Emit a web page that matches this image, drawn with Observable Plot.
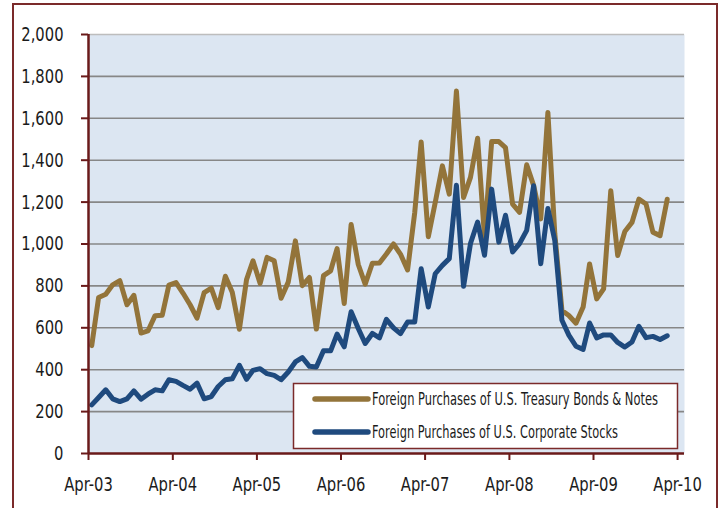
<!DOCTYPE html>
<html>
<head>
<meta charset="utf-8">
<script src="https://cdn.jsdelivr.net/npm/d3@7"></script>
<script src="https://cdn.jsdelivr.net/npm/@observablehq/plot@0.6"></script>
<style>
  body { margin: 0; background: #fff; }
  #wrap { position: relative; width: 724px; height: 508px; overflow: hidden;
          font-family: "Liberation Sans Narrow", "DejaVu Sans Condensed", "Roboto", sans-serif; }
  #frame { position: absolute; left: 12px; top: 3px; width: 702px; height: 560px;
           border: 2px solid #7b2a2a; box-sizing: content-box; }
  #chart { position: absolute; left: 0; top: 0; }
  #legend { position: absolute; left: 0; top: 0; pointer-events: none; }
</style>
</head>
<body>
<div id="wrap">
  <div id="frame"></div>
  <div id="chart"></div>
  <svg id="legend" width="724" height="508"></svg>
</div>
<script>
// Monthly values, starting Apr-03 (one per month)
const startYear = 2003, startMonth = 3; // April (0-based)
const treasury = [
  515, 745, 760, 805, 825, 710, 755, 575, 585, 658, 660, 804,
  816, 766, 710, 646, 768, 789, 696, 846, 770, 593, 830, 920,
  812, 936, 920, 741, 818, 1015, 801, 840, 594, 849, 872, 978,
  716, 1093, 902, 808, 908, 909, 952, 1000, 952, 876, 1150, 1487,
  1035, 1198, 1373, 1238, 1730, 1222, 1318, 1505, 1032, 1489, 1489, 1460,
  1190, 1151, 1378, 1280, 1120, 1628, 1050, 683, 659, 622, 699, 905,
  738, 786, 1254, 945, 1060, 1103, 1214, 1191, 1056, 1040, 1214
];
const stocks = [
  232, 267, 304, 261, 248, 261, 299, 259, 283, 304, 299, 352,
  344, 325, 307, 336, 261, 272, 320, 352, 357, 421, 354, 397,
  405, 381, 373, 352, 389, 437, 458, 416, 413, 490, 490, 570,
  509, 677, 597, 525, 573, 552, 640, 600, 572, 628, 628, 882,
  699, 858, 898, 930, 1280, 798, 1002, 1105, 946, 1262, 1009, 1137,
  962, 1002, 1065, 1278, 906, 1169, 1017, 636, 565, 512, 497, 623,
  552, 566, 566, 530, 508, 532, 607, 553, 559, 544, 562
];
const seriesNames = ["Foreign Purchases of U.S. Treasury Bonds & Notes", "Foreign Purchases of U.S. Corporate Stocks"];
const seriesColors = ["#93743a", "#1f4a7e"];
const yTicks = [0, 200, 400, 600, 800, 1000, 1200, 1400, 1600, 1800, 2000];
const xTickYears = [2003, 2004, 2005, 2006, 2007, 2008, 2009, 2010];

const rows = treasury.map((v, i) => ({
  date: new Date(Date.UTC(startYear, startMonth + i, 15)),
  treasury: v,
  stocks: stocks[i]
}));
const xTicks = xTickYears.map(y => new Date(Date.UTC(y, 3, 1)));
const x0 = new Date(Date.UTC(2003, 3, 1));
const x1 = new Date(Date.UTC(2010, 4, 1));
const axisColor = "#6a1a1a";

const chart = Plot.plot({
  width: 724, height: 508,
  marginLeft: 88, marginRight: 40, marginTop: 34, marginBottom: 55,
  style: { fontFamily: '"Liberation Sans Narrow", "DejaVu Sans Condensed", sans-serif', fontSize: "20px", color: "#1b1b1b", background: "transparent", overflow: "visible" },
  x: { type: "utc", domain: [x0, x1] },
  y: { domain: [0, 2000] },
  marks: [
    Plot.frame({ fill: "#dce6f2", stroke: null }),
    Plot.gridY(yTicks.filter(d => d > 0 && d < 2000), { stroke: "#878787", strokeOpacity: 1, strokeWidth: 1.6 }),
    Plot.ruleY([2000], { stroke: "#bdbdbd", strokeWidth: 1.6 }),
    Plot.lineY(rows, { x: "date", y: "treasury", stroke: seriesColors[0], strokeWidth: 5, strokeLinejoin: "round", strokeLinecap: "round" }),
    Plot.lineY(rows, { x: "date", y: "stocks", stroke: seriesColors[1], strokeWidth: 5, strokeLinejoin: "round", strokeLinecap: "round" }),
    Plot.ruleY([0], { stroke: axisColor, strokeWidth: 2.5 }),
    Plot.ruleX([x0], { stroke: axisColor, strokeWidth: 2.5 }),
    Plot.axisY({ ticks: yTicks, tickFormat: d3.format(","), tickSize: 7, tickPadding: 18, stroke: axisColor, strokeWidth: 2, strokeOpacity: 1, label: null }),
    Plot.axisX({ ticks: xTicks, tickFormat: d3.utcFormat("%b-%y"), tickSize: 7, tickPadding: 16, stroke: axisColor, strokeWidth: 2, strokeOpacity: 1, label: null })
  ]
});
document.getElementById("chart").appendChild(chart);

// condense tick labels
chart.querySelectorAll('g[aria-label$="tick label"] text').forEach(t => {
  const w = t.getComputedTextLength();
  t.setAttribute("textLength", (w * 0.82).toFixed(1));
  t.setAttribute("lengthAdjust", "spacingAndGlyphs");
});

// legend
const lg = d3.select("#legend");
lg.append("rect").attr("x", 293.5).attr("y", 383.5).attr("width", 384).attr("height", 65)
  .attr("fill", "#fff").attr("stroke", "#7b2a2a").attr("stroke-width", 1.5);
const legendLens = [286, 246];
seriesNames.forEach((name, i) => {
  const cy = 399 + i * 33;
  lg.append("line").attr("x1", 315).attr("x2", 368).attr("y1", cy).attr("y2", cy)
    .attr("stroke", seriesColors[i]).attr("stroke-width", 5.5).attr("stroke-linecap", "round");
  lg.append("text")
    .attr("transform", `translate(372,${cy + 6}) scale(1,1.2)`)
    .attr("x", 0).attr("y", 0)
    .attr("font-family", '"Liberation Sans Narrow", "DejaVu Sans Condensed", sans-serif')
    .attr("font-size", 14).attr("fill", "#1b1b1b")
    .attr("textLength", legendLens[i]).attr("lengthAdjust", "spacingAndGlyphs")
    .text(name);
});
</script>
</body>
</html>
